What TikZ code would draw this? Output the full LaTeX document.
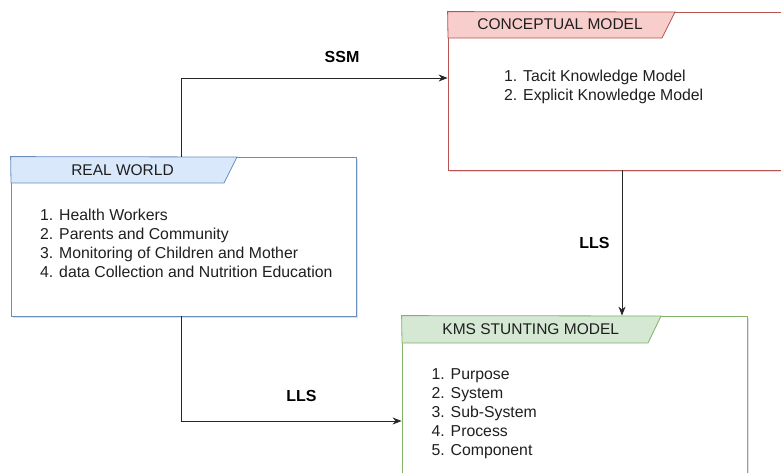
\documentclass[tikz,border=0pt]{standalone}
\usepackage{fontspec}
\setmainfont{Liberation Sans}
\usetikzlibrary{arrows.meta,shadows}
\definecolor{bluefill}{HTML}{DAE8FC}\definecolor{bluedraw}{HTML}{6C8EBF}
\definecolor{redfill}{HTML}{F8CECC}\definecolor{reddraw}{HTML}{B85450}
\definecolor{greenfill}{HTML}{D5E8D4}\definecolor{greendraw}{HTML}{82B366}
\tikzset{
  frame/.style={draw=#1, line width=0.8pt, fill=white, rectangle, inner sep=0pt,
    drop shadow={shadow xshift=2pt, shadow yshift=-2pt, opacity=0.12, fill=black}},
  tab/.style={draw=#1, line width=0.8pt},
  title/.style={font=\fontsize{15.5}{18}\selectfont, text=black!88, anchor=base, inner sep=0pt},
  item/.style={font=\fontsize{15.8}{18}\selectfont, text=black!88, anchor=base west, inner sep=0pt},
  lbl/.style={font=\fontsize{16}{19}\selectfont\bfseries, inner sep=0pt},
  conn/.style={draw=black!85, line width=0.9pt, -{Stealth[length=9pt,width=7pt]}}
}
\begin{document}
\begin{tikzpicture}[x=1pt,y=-1pt]
\useasboundingbox (0,0) rectangle (781,472);
\clip (0,0) rectangle (781,472);
% boxes
\node[frame=bluedraw, minimum width=345pt, minimum height=159pt] (real) at (183.5,236.5) {};
\node[frame=reddraw, minimum width=342pt, minimum height=158pt] (concept) at (619,91) {};
\node[frame=greendraw, minimum width=345pt, minimum height=174pt] (kms) at (574.5,403) {};
% tabs
\filldraw[tab=bluedraw, fill=bluefill] (real.north west) -- (237,157) -- (224,183) -- (11,183) -- cycle;
\filldraw[tab=reddraw, fill=redfill] (concept.north west) -- (675,12) -- (662,38) -- (448,38) -- cycle;
\filldraw[tab=greendraw, fill=greenfill] (kms.north west) -- (661,316) -- (648,343) -- (402,343) -- cycle;
% titles
\node[title] (realt) at (122.5,175.5) {REAL WORLD};
\node[title] (conceptt) at (560,29.5) {CONCEPTUAL MODEL};
\node[title] (kmst) at (530.7,334.5) {KMS STUNTING MODEL};
% items
\foreach \t [count=\i] in {1. Health Workers, 2. Parents and Community, 3. Monitoring of Children and Mother, 4. data Collection and Nutrition Education}
  \node[item] (rw\i) at (40,220+19*\i-19) {\t};
\foreach \t [count=\i] in {1. Tacit Knowledge Model, 2. Explicit Knowledge Model}
  \node[item] (cm\i) at (504,81+19*\i-19) {\t};
\foreach \t [count=\i] in {1. Purpose, 2. System, 3. Sub-System, 4. Process, 5. Component}
  \node[item] (km\i) at (431.5,379+19*\i-19) {\t};
% connectors
\coordinate (b1) at (181,78);
\coordinate (b2) at (181,421);
\coordinate (b3) at (622,0);
\draw[conn] (real.north -| b1) |- (concept.west |- b1);
\draw[conn] (concept.south -| b3) -- (kms.north -| b3);
\draw[conn] (real.south -| b2) |- (kms.west |- b2);
% labels
\node[lbl] (ssm) at (342,57) {SSM};
\node[lbl] (lls1) at (594.5,242.5) {LLS};
\node[lbl] (lls2) at (301.5,396) {LLS};
\end{tikzpicture}
\end{document}
